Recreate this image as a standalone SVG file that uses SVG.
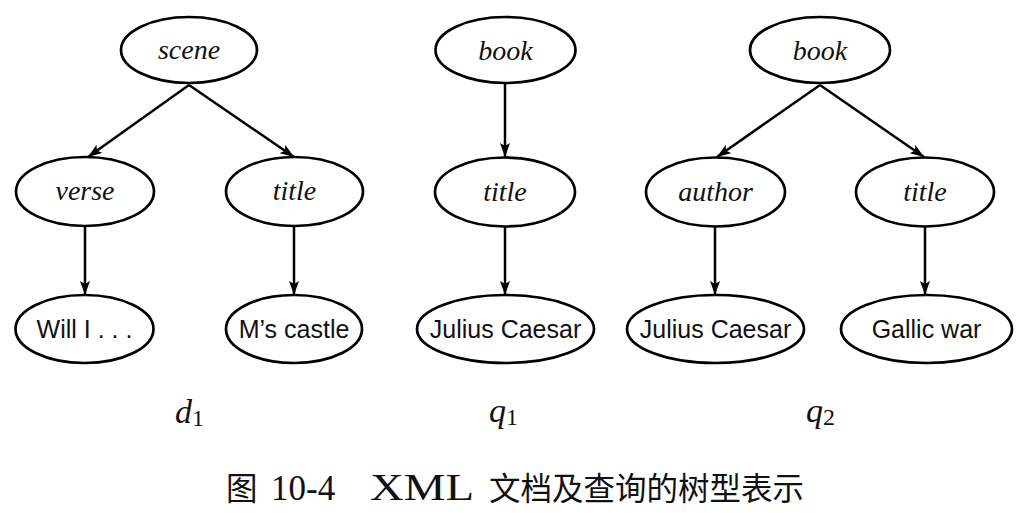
<svg xmlns="http://www.w3.org/2000/svg" width="1028" height="513" viewBox="0 0 1028 513">
<style>
.n ellipse{fill:#fff;stroke:#000;stroke-width:2.7}
.it{font-family:"Liberation Serif","DejaVu Serif",serif;font-style:italic;font-size:28px;text-anchor:middle;fill:#111}
.sn{font-family:"Liberation Sans",Arial,sans-serif;font-size:25px;text-anchor:middle;fill:#111}
#edges line{stroke:#000;stroke-width:2.5;marker-end:url(#ah)}
.lbl{font-family:"Liberation Serif","DejaVu Serif",serif;font-size:34px;fill:#111}
.cap{font-family:"Liberation Serif","Noto Sans CJK SC",serif;font-size:35px;fill:#111}
.cjk{font-family:"Noto Sans CJK SC",sans-serif;font-size:31.5px}
</style>
<defs>
<marker id="ah" viewBox="0 0 14 10" refX="14" refY="5" markerWidth="14" markerHeight="10" markerUnits="userSpaceOnUse" orient="auto">
<path d="M0,0 L14,5 L0,10 L3,5 Z" fill="#000"/>
</marker>
</defs>
<rect width="1028" height="513" fill="#fff"/>
<g id="edges">
<line x1="189" y1="85" x2="88" y2="157"/>
<line x1="189" y1="85" x2="294" y2="157"/>
<line x1="85" y1="226" x2="85" y2="295"/>
<line x1="294" y1="226" x2="294" y2="295"/>
<line x1="505" y1="84" x2="505" y2="157"/>
<line x1="505" y1="226" x2="505" y2="295"/>
<line x1="820" y1="85" x2="717" y2="157"/>
<line x1="820" y1="85" x2="924" y2="157"/>
<line x1="715" y1="226" x2="715" y2="295"/>
<line x1="925" y1="226" x2="925" y2="295"/>
</g>
<g id="d1-scene" class="n"><ellipse cx="189" cy="50" rx="68" ry="33"/><text class="it" x="189" y="59">scene</text></g>
<g id="d1-verse" class="n"><ellipse cx="85" cy="191.5" rx="69" ry="34.5"/><text class="it" x="85" y="200">verse</text></g>
<g id="d1-title" class="n"><ellipse cx="294.5" cy="191.5" rx="68.5" ry="34.5"/><text class="it" x="294.5" y="200">title</text></g>
<g id="d1-will" class="n"><ellipse cx="84.5" cy="329" rx="69" ry="34"/><text class="sn" x="84.5" y="338">Will I . . .</text></g>
<g id="d1-castle" class="n"><ellipse cx="294" cy="329" rx="68" ry="34"/><text class="sn" x="294" y="338">M’s castle</text></g>
<g id="q1-book" class="n"><ellipse cx="505.5" cy="50" rx="70" ry="33"/><text class="it" x="505.5" y="60">book</text></g>
<g id="q1-title" class="n"><ellipse cx="505" cy="192" rx="70" ry="34.5"/><text class="it" x="505" y="201">title</text></g>
<g id="q1-julius" class="n"><ellipse cx="505.5" cy="329" rx="88.5" ry="34"/><text class="sn" x="505.5" y="338">Julius Caesar</text></g>
<g id="q2-book" class="n"><ellipse cx="820" cy="50" rx="70" ry="33"/><text class="it" x="820" y="60">book</text></g>
<g id="q2-author" class="n"><ellipse cx="715.5" cy="192" rx="69.5" ry="34.5"/><text class="it" x="715.5" y="201">author</text></g>
<g id="q2-title" class="n"><ellipse cx="925" cy="192" rx="69" ry="34.5"/><text class="it" x="925" y="201">title</text></g>
<g id="q2-julius" class="n"><ellipse cx="715.5" cy="329" rx="88.5" ry="34"/><text class="sn" x="715.5" y="338">Julius Caesar</text></g>
<g id="q2-gallic" class="n"><ellipse cx="926.5" cy="329" rx="85.5" ry="34"/><text class="sn" x="926.5" y="338">Gallic war</text></g>
<g id="labels">
<text class="lbl" x="175" y="423"><tspan font-style="italic">d</tspan><tspan font-size="24" dy="3">1</tspan></text>
<text class="lbl" x="489" y="422"><tspan font-style="italic">q</tspan><tspan font-size="24" dy="3">1</tspan></text>
<text class="lbl" x="806" y="422"><tspan font-style="italic">q</tspan><tspan font-size="24" dy="3">2</tspan></text>
</g>
<g id="caption">
<text class="cap" y="500"><tspan x="226" class="cjk">图</tspan><tspan x="271">10-4</tspan><tspan x="370" font-size="38" textLength="104" lengthAdjust="spacingAndGlyphs">XML</tspan><tspan x="489" class="cjk">文档及查询的树型表示</tspan></text>
</g>
</svg>
